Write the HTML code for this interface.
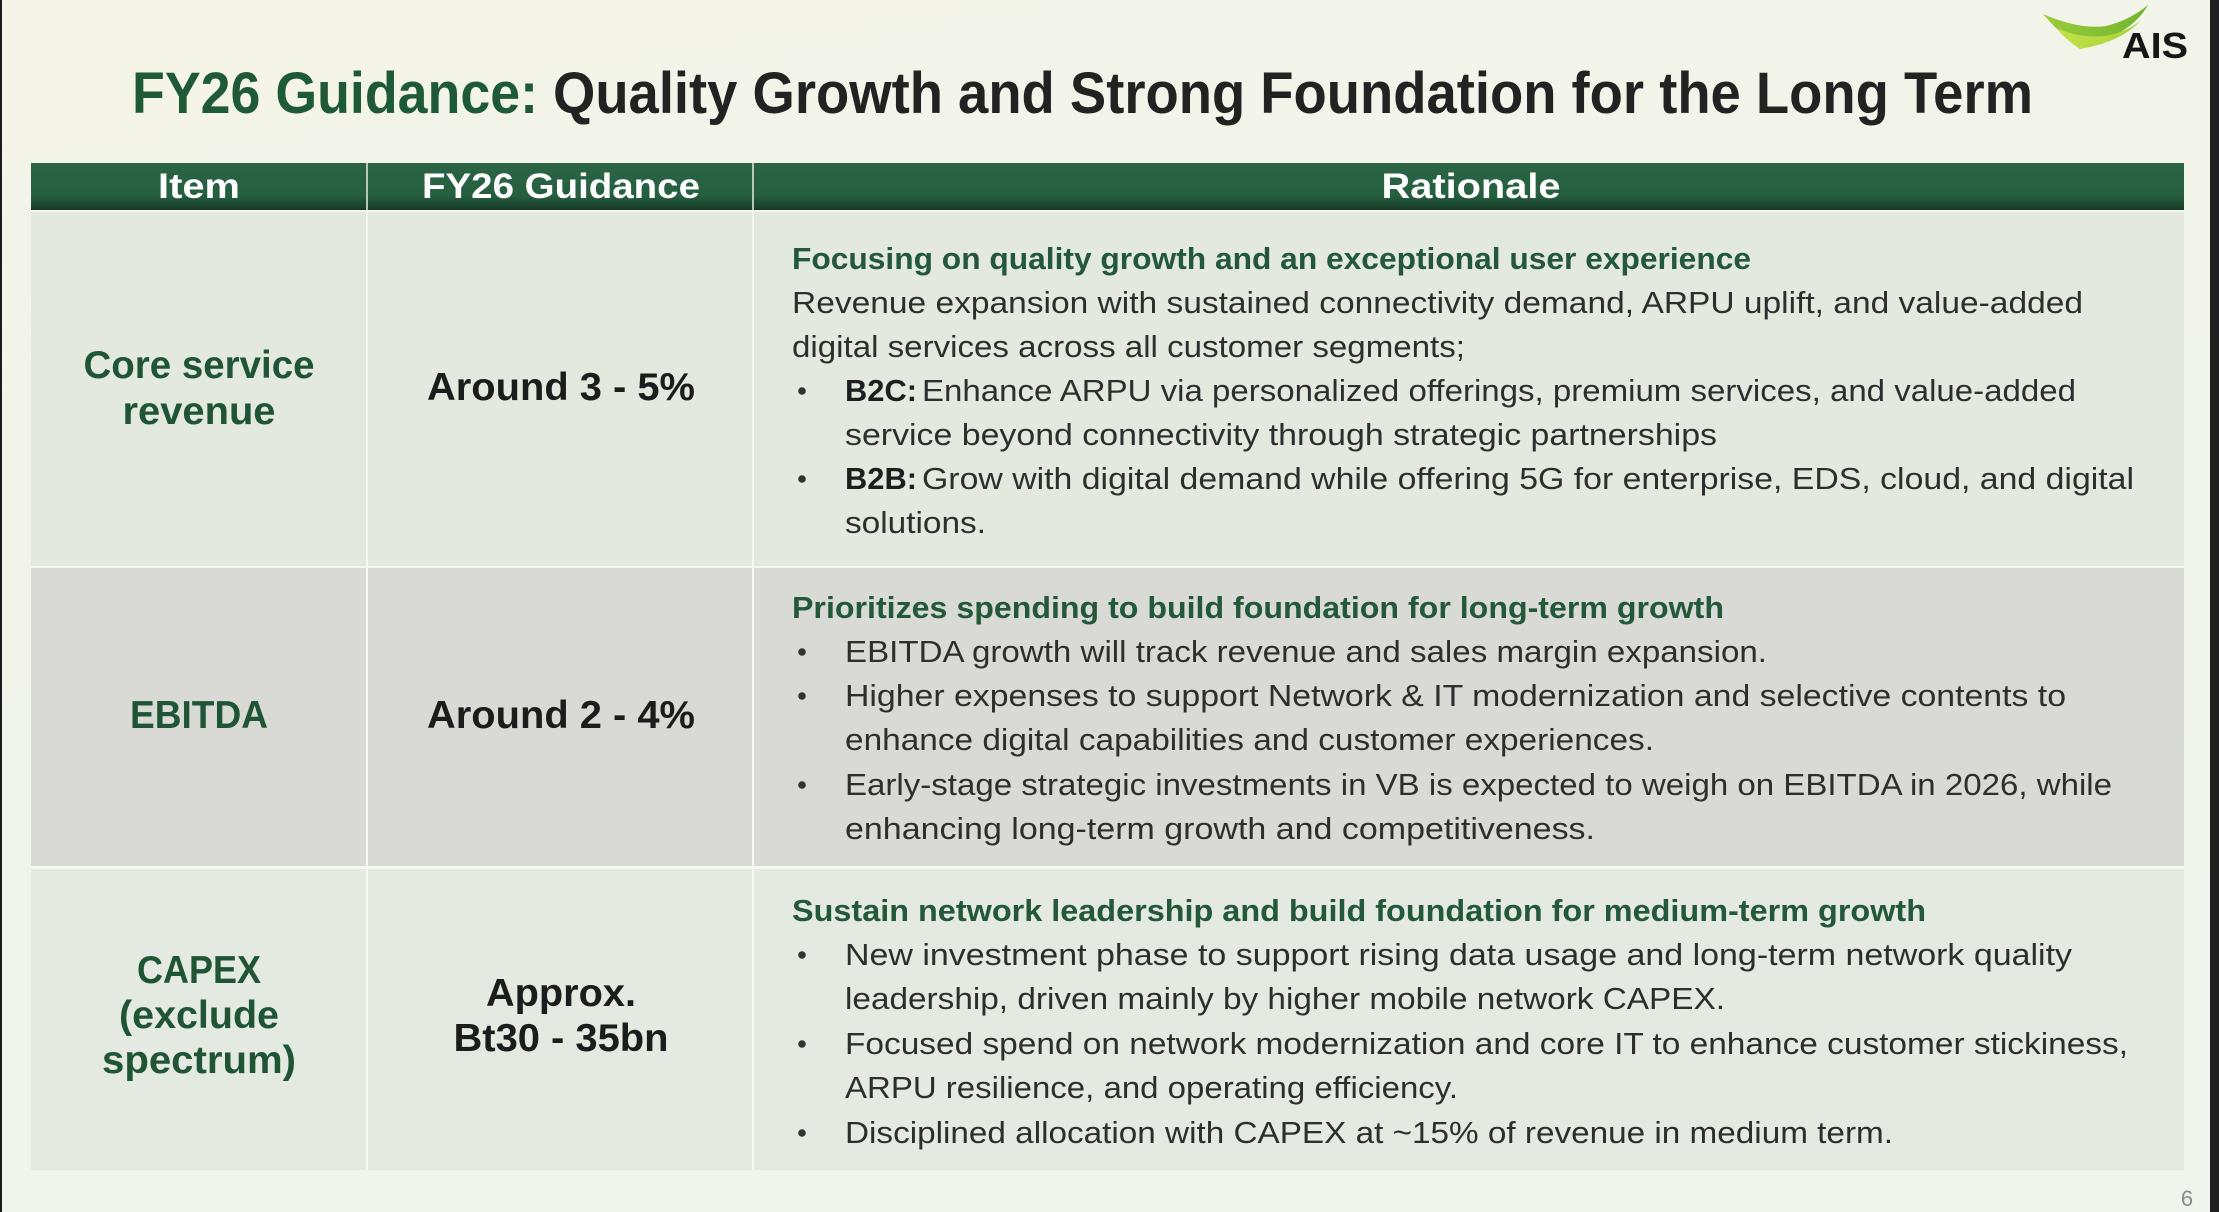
<!DOCTYPE html>
<html>
<head>
<meta charset="utf-8">
<style>
html,body{margin:0;padding:0;background:#f3f4eb;}
svg{display:block;}
text{font-family:"Liberation Sans",Arial,sans-serif;}
</style>
</head>
<body>
<svg width="2219" height="1212" viewBox="0 0 2219 1212" xmlns="http://www.w3.org/2000/svg">
<defs>
<linearGradient id="bg" x1="0" y1="0" x2="0.3" y2="1">
<stop offset="0" stop-color="#f4f4e9"/>
<stop offset="0.6" stop-color="#f1f4ea"/>
<stop offset="1" stop-color="#eff5ec"/>
</linearGradient>
<linearGradient id="hd" x1="0" y1="0" x2="0" y2="1">
<stop offset="0" stop-color="#2b6546"/>
<stop offset="0.7" stop-color="#255f40"/>
<stop offset="1" stop-color="#163825"/>
</linearGradient>
<linearGradient id="sw1" x1="0" y1="0" x2="1" y2="0">
<stop offset="0" stop-color="#9ccc3a"/>
<stop offset="1" stop-color="#6fb52f"/>
</linearGradient>
<linearGradient id="sw2" x1="0" y1="0" x2="1" y2="0">
<stop offset="0" stop-color="#c6e04a"/>
<stop offset="1" stop-color="#a6d23a"/>
</linearGradient>
</defs>

<rect x="0" y="0" width="2219" height="1212" fill="url(#bg)"/>
<rect x="0" y="0" width="2" height="1212" fill="#1c1c1c"/>
<rect x="2210" y="0" width="9" height="1212" fill="#202020"/>

<!-- logo -->
<path d="M2043,14 Q2080,30 2106,26 Q2130,20 2148,5 Q2132,34 2080,49 Q2060,34 2043,14 Z" fill="url(#sw1)"/>
<path d="M2056,28 Q2084,40 2110,35 Q2130,30 2141,20 Q2122,42 2080,49 Q2066,40 2056,28 Z" fill="url(#sw2)"/>
<text x="2122" y="58" font-size="36" font-weight="bold" fill="#161616" textLength="66" lengthAdjust="spacingAndGlyphs">AIS</text>

<!-- title -->
<text x="132" y="113" font-size="58" font-weight="bold" fill="#1f5a38" textLength="406" lengthAdjust="spacingAndGlyphs">FY26 Guidance:</text>
<text x="553" y="113" font-size="58" font-weight="bold" fill="#222222" textLength="1480" lengthAdjust="spacingAndGlyphs">Quality Growth and Strong Foundation for the Long Term</text>

<!-- table header -->
<rect x="31" y="163" width="2153" height="47" fill="url(#hd)"/>
<rect x="366" y="163" width="2" height="47" fill="#d8e2da" opacity="0.8"/>
<rect x="752" y="163" width="2" height="47" fill="#d8e2da" opacity="0.8"/>
<text x="199" y="198" font-size="35" font-weight="bold" fill="#ffffff" text-anchor="middle" textLength="82" lengthAdjust="spacingAndGlyphs">Item</text>
<text x="561" y="198" font-size="35" font-weight="bold" fill="#ffffff" text-anchor="middle" textLength="278" lengthAdjust="spacingAndGlyphs">FY26 Guidance</text>
<text x="1471" y="198" font-size="35" font-weight="bold" fill="#ffffff" text-anchor="middle" textLength="179" lengthAdjust="spacingAndGlyphs">Rationale</text>

<!-- rows backgrounds -->
<rect x="31" y="212" width="2153" height="354" fill="#e4e9e0"/>
<rect x="31" y="568" width="2153" height="298" fill="#d9dad6"/>
<rect x="31" y="869" width="2153" height="301" fill="#e4e9e1"/>
<!-- row separators -->
<rect x="31" y="566" width="2153" height="2" fill="#f6f8f2"/>
<rect x="31" y="866" width="2153" height="3" fill="#f6f8f2"/>
<!-- column separators -->
<rect x="366" y="210" width="2" height="960" fill="#f6f8f2"/>
<rect x="752" y="210" width="2" height="960" fill="#f6f8f2"/>

<!-- Row 1 -->
<text x="199" y="378" font-size="39" font-weight="bold" fill="#1f5535" text-anchor="middle" textLength="231" lengthAdjust="spacingAndGlyphs">Core service</text>
<text x="199" y="424" font-size="39" font-weight="bold" fill="#1f5535" text-anchor="middle" textLength="153" lengthAdjust="spacingAndGlyphs">revenue</text>
<text x="561" y="400" font-size="39" font-weight="bold" fill="#1c1c1c" text-anchor="middle" textLength="268" lengthAdjust="spacingAndGlyphs">Around 3 - 5%</text>

<g font-size="31" fill="#2e2e2e">
<text x="792" y="269" font-weight="bold" fill="#24583a" textLength="959" lengthAdjust="spacingAndGlyphs">Focusing on quality growth and an exceptional user experience</text>
<text x="792" y="313" textLength="1291" lengthAdjust="spacingAndGlyphs">Revenue expansion with sustained connectivity demand, ARPU uplift, and value-added</text>
<text x="792" y="357" textLength="673" lengthAdjust="spacingAndGlyphs">digital services across all customer segments;</text>
<circle cx="802" cy="391" r="3.8" fill="#333"/>
<text x="845" y="401" font-weight="bold" fill="#1e1e1e" textLength="72" lengthAdjust="spacingAndGlyphs">B2C:</text>
<text x="922" y="401" textLength="1154" lengthAdjust="spacingAndGlyphs">Enhance ARPU via personalized offerings, premium services, and value-added</text>
<text x="845" y="445" textLength="872" lengthAdjust="spacingAndGlyphs">service beyond connectivity through strategic partnerships</text>
<circle cx="802" cy="479" r="3.8" fill="#333"/>
<text x="845" y="489" font-weight="bold" fill="#1e1e1e" textLength="72" lengthAdjust="spacingAndGlyphs">B2B:</text>
<text x="922" y="489" textLength="1212" lengthAdjust="spacingAndGlyphs">Grow with digital demand while offering 5G for enterprise, EDS, cloud, and digital</text>
<text x="845" y="533" textLength="141" lengthAdjust="spacingAndGlyphs">solutions.</text>
</g>

<!-- Row 2 -->
<text x="199" y="728" font-size="39" font-weight="bold" fill="#1f5535" text-anchor="middle" textLength="138" lengthAdjust="spacingAndGlyphs">EBITDA</text>
<text x="561" y="728" font-size="39" font-weight="bold" fill="#1c1c1c" text-anchor="middle" textLength="268" lengthAdjust="spacingAndGlyphs">Around 2 - 4%</text>

<g font-size="31" fill="#2e2e2e">
<text x="792" y="618" font-weight="bold" fill="#24583a" textLength="932" lengthAdjust="spacingAndGlyphs">Prioritizes spending to build foundation for long-term growth</text>
<circle cx="802" cy="652" r="3.8" fill="#333"/>
<text x="845" y="662" textLength="922" lengthAdjust="spacingAndGlyphs">EBITDA growth will track revenue and sales margin expansion.</text>
<circle cx="802" cy="696" r="3.8" fill="#333"/>
<text x="845" y="706" textLength="1221" lengthAdjust="spacingAndGlyphs">Higher expenses to support Network &amp; IT modernization and selective contents to</text>
<text x="845" y="750" textLength="809" lengthAdjust="spacingAndGlyphs">enhance digital capabilities and customer experiences.</text>
<circle cx="802" cy="785" r="3.8" fill="#333"/>
<text x="845" y="795" textLength="1267" lengthAdjust="spacingAndGlyphs">Early-stage strategic investments in VB is expected to weigh on EBITDA in 2026, while</text>
<text x="845" y="839" textLength="750" lengthAdjust="spacingAndGlyphs">enhancing long-term growth and competitiveness.</text>
</g>

<!-- Row 3 -->
<text x="199" y="983" font-size="39" font-weight="bold" fill="#1f5535" text-anchor="middle" textLength="124" lengthAdjust="spacingAndGlyphs">CAPEX</text>
<text x="199" y="1028" font-size="39" font-weight="bold" fill="#1f5535" text-anchor="middle" textLength="160" lengthAdjust="spacingAndGlyphs">(exclude</text>
<text x="199" y="1073" font-size="39" font-weight="bold" fill="#1f5535" text-anchor="middle" textLength="194" lengthAdjust="spacingAndGlyphs">spectrum)</text>
<text x="561" y="1006" font-size="39" font-weight="bold" fill="#1c1c1c" text-anchor="middle" textLength="150" lengthAdjust="spacingAndGlyphs">Approx.</text>
<text x="561" y="1051" font-size="39" font-weight="bold" fill="#1c1c1c" text-anchor="middle" textLength="215" lengthAdjust="spacingAndGlyphs">Bt30 - 35bn</text>

<g font-size="31" fill="#2e2e2e">
<text x="792" y="921" font-weight="bold" fill="#24583a" textLength="1134" lengthAdjust="spacingAndGlyphs">Sustain network leadership and build foundation for medium-term growth</text>
<circle cx="802" cy="955" r="3.8" fill="#333"/>
<text x="845" y="965" textLength="1227" lengthAdjust="spacingAndGlyphs">New investment phase to support rising data usage and long-term network quality</text>
<text x="845" y="1009" textLength="880" lengthAdjust="spacingAndGlyphs">leadership, driven mainly by higher mobile network CAPEX.</text>
<circle cx="802" cy="1044" r="3.8" fill="#333"/>
<text x="845" y="1054" textLength="1283" lengthAdjust="spacingAndGlyphs">Focused spend on network modernization and core IT to enhance customer stickiness,</text>
<text x="845" y="1098" textLength="613" lengthAdjust="spacingAndGlyphs">ARPU resilience, and operating efficiency.</text>
<circle cx="802" cy="1133" r="3.8" fill="#333"/>
<text x="845" y="1143" textLength="1048" lengthAdjust="spacingAndGlyphs">Disciplined allocation with CAPEX at ~15% of revenue in medium term.</text>
</g>

<!-- page number -->
<text x="2187" y="1206" font-size="22" fill="#8a8a8a" text-anchor="middle">6</text>
</svg>
</body>
</html>
